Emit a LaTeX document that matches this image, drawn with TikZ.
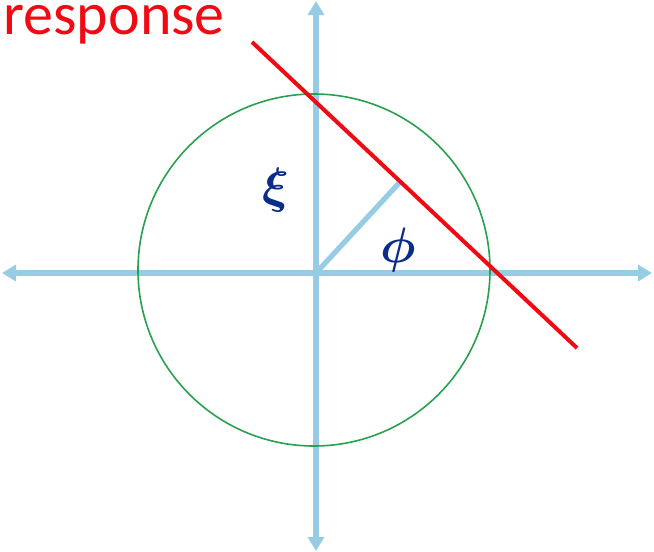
\documentclass[tikz,border=0pt]{standalone}
\usepackage{fontspec}
\setsansfont{Carlito}
\usetikzlibrary{arrows.meta}
\definecolor{axblue}{RGB}{150, 204, 228}
\definecolor{rspred}{RGB}{240, 10, 20}
\definecolor{circgreen}{RGB}{40, 160, 80}
\definecolor{labblue}{RGB}{10, 45, 140}
\begin{document}
\begin{tikzpicture}[
    x=0.5pt, y=-0.5pt,
    ax/.style={axblue, line width=3pt,
               {Triangle[length=7pt, width=8pt]}-{Triangle[length=7pt, width=8pt]}},
    rsp/.style={rspred, line width=2pt},
    lab/.style={labblue, font=\fontsize{37}{38}\selectfont\boldmath, inner sep=0pt},
  ]
    \useasboundingbox (0,0) rectangle (654,552);

    % axes
    \coordinate (o) at (316,273);
    \coordinate (xl) at (2,273);
    \coordinate (xr) at (652,273);
    \coordinate (yt) at (316,1);
    \coordinate (yb) at (316,551);
    \draw[ax] (xl) -- (xr);
    \draw[ax] (yt) -- (yb);

    % circle
    \coordinate (c) at (314,270);
    \draw[circgreen, line width=0.8pt] (c) circle[radius=176];

    % response line and its normal
    \coordinate (r0) at (252,42);
    \coordinate (r1) at (577,348);
    \coordinate (ft) at (400,182);
    \draw[axblue, line width=2.6pt] (o) -- (ft);
    \draw[rsp] (r0) -- (r1);

    % labels
    \node[lab] (xi) at (276,190) {$\xi$};
    \node[lab] (phi) at (398,250) {$\phi$};
    \node[rspred, font=\sffamily\fontsize{30}{31}\selectfont, anchor=base west,
          inner sep=0pt] (resp) at (3,34) {response};
\end{tikzpicture}
\end{document}
